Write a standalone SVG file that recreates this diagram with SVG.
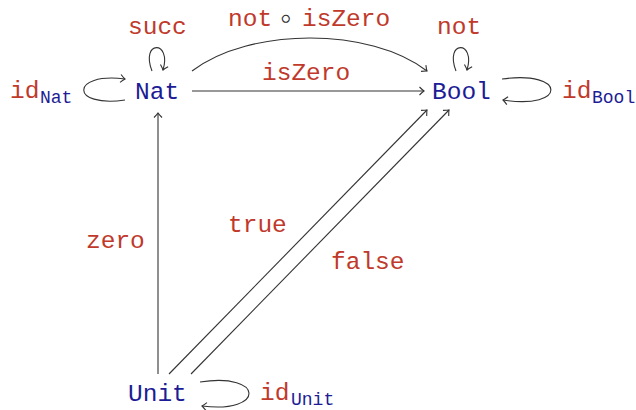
<svg xmlns="http://www.w3.org/2000/svg" width="636" height="410" viewBox="0 0 636 410">
<style>
text{font-family:"Liberation Mono","DejaVu Sans Mono",monospace;font-size:24.5px}
.n{fill:#1c1c96}
.l{fill:#c0392b}
.s{font-size:18px;fill:#1c1c96}
.c path{fill:none;stroke:#333;stroke-width:1.1}
</style>
<defs>
<marker id="a" markerUnits="userSpaceOnUse" markerWidth="12" markerHeight="12" refX="0" refY="0" viewBox="-6 -6 12 12" orient="auto" overflow="visible">
<path d="M-4.5,-4 Q-1.5,-1 0,0 Q-1.5,1 -4.5,4" fill="none" stroke="#333" stroke-width="1.1"/>
</marker>
</defs>
<g class="c" id="connectors">
<path d="M192,71 C250,27 370,27 427,71" marker-end="url(#a)"/>
<path d="M192,91 L424,91" marker-end="url(#a)"/>
<path d="M158,374 L158,113" marker-end="url(#a)"/>
<path d="M169,374 L427,110" marker-end="url(#a)"/>
<path d="M191,374 L449,110" marker-end="url(#a)"/>
<path d="M152,71 C140,40 172,40 163,70" marker-end="url(#a)"/>
<path d="M456,71 C444,40 476,40 467,70" marker-end="url(#a)"/>
<path d="M125,100 C70,108 70,72 125,79" marker-end="url(#a)"/>
<path d="M502,79 C567,70 567,110 503,100" marker-end="url(#a)"/>
<path d="M200,382 C265,372 265,414 202,406" marker-end="url(#a)"/>
</g>
<g id="labels">
<text class="l" x="128" y="34">succ</text>
<text class="l" x="228" y="26">not</text>
<text x="286" y="28" text-anchor="middle" style="font-family:'DejaVu Sans',sans-serif;font-size:30px;font-weight:200;fill:#333">∘</text>
<text class="l" x="302" y="26">isZero</text>
<text class="l" x="262" y="80">isZero</text>
<text class="l" x="437" y="34">not</text>
<text class="l" x="10" y="98">id<tspan class="s" x="40" y="103">Nat</tspan></text>
<text class="l" x="562" y="98">id<tspan class="s" x="592" y="103">Bool</tspan></text>
<text class="l" x="260" y="400">id<tspan class="s" x="291" y="405">Unit</tspan></text>
<text class="l" x="86" y="248">zero</text>
<text class="l" x="228" y="232">true</text>
<text class="l" x="331" y="269">false</text>
</g>
<g id="node-nat"><text class="n" x="135" y="99">Nat</text></g>
<g id="node-bool"><text class="n" x="432" y="99">Bool</text></g>
<g id="node-unit"><text class="n" x="128" y="401">Unit</text></g>
</svg>
